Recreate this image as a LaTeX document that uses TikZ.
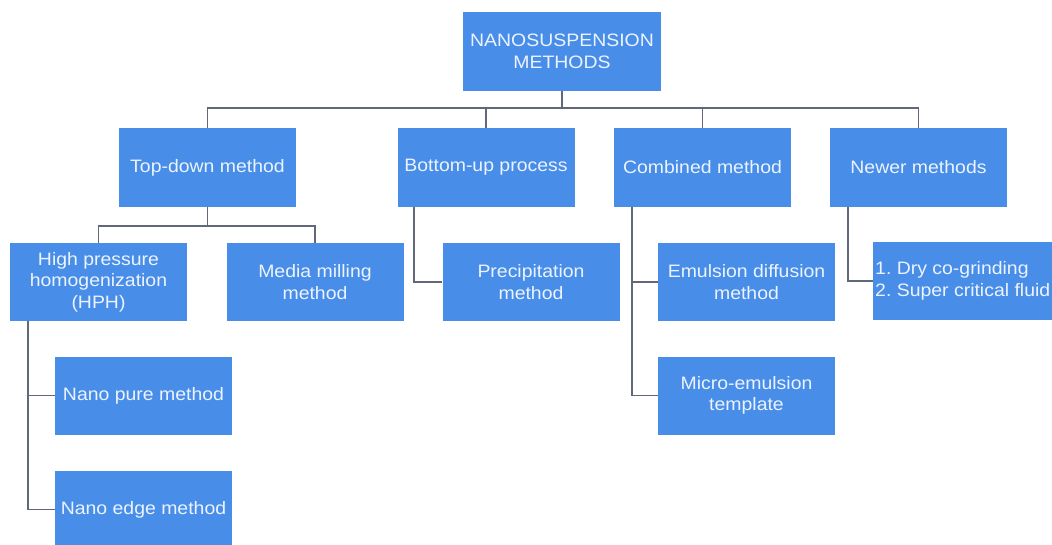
\documentclass[tikz,border=0pt]{standalone}
\usepackage{fontspec}
\setmainfont{Liberation Sans}[FakeStretch=1.08]
\definecolor{boxblue}{RGB}{72,142,232}
\definecolor{boxtext}{RGB}{236,243,255}
\definecolor{linegray}{RGB}{96,104,122}
\tikzset{
  box/.style={fill=boxblue, draw=none, inner sep=0pt, minimum width=177pt, minimum height=78pt,
    text=boxtext, align=center, font=\fontsize{18}{21.5}\selectfont},
  conn/.style={draw=linegray, line width=1.8pt}
}
\frenchspacing
\begin{document}
\begin{tikzpicture}[x=1pt,y=-1pt]
\useasboundingbox (0,0) rectangle (1052,545);
\clip (0,0) rectangle (1052,545);
\node[box, minimum width=198pt, minimum height=79pt] (root) at (562,51.5) {NANOSUSPENSION\\METHODS};
\node[box, minimum height=79pt] (td) at (207.5,167.5) {Top-down method};
\node[box, minimum height=79pt] (bu) at (486,167.5) {Bottom-up process};
\node[box, minimum height=79pt] (cb) at (702.5,167.5) {Combined method};
\node[box, minimum height=79pt] (nw) at (918.5,167.5) {Newer methods};
\node[box] (hph) at (98.5,282) {High pressure\\homogenization\\(HPH)};
\node[box] (mm) at (315,282) {Media milling\\method};
\node[box] (pr) at (531,282) {Precipitation\\method};
\node[box] (ed) at (746.5,282) {Emulsion diffusion\\method};
\node[box] (me) at (746.5,395.5) {Micro-emulsion\\template};
\node[box, align=left, anchor=west, inner xsep=2pt] (nd) at (873,281) {1. Dry co-grinding\\2. Super critical fluid};
\node[box] (np) at (143.5,395.5) {Nano pure method};
\node[box, minimum height=77pt] (ne) at (143.5,509.5) {Nano edge method};
% first level bus
\coordinate (bus) at (562,108);
\draw[conn] (root.south) -- (root.south |- bus);
\draw[conn] (td.north) -- (td.north |- bus) -- (nw.north |- bus) -- (nw.north);
\draw[conn] (bu.north) -- (bu.north |- bus);
\draw[conn] (cb.north) -- (cb.north |- bus);
% top-down children
\coordinate (tdbus) at (207.5,226);
\draw[conn] (td.south) -- (tdbus);
\draw[conn] (hph.north) -- (hph.north |- tdbus) -- (mm.north |- tdbus) -- (mm.north);
% bottom-up child
\coordinate (bus2) at ([xshift=17pt]bu.south west);
\draw[conn] (bus2) |- (pr.west);
% combined children
\coordinate (cbs) at ([xshift=18pt]cb.south west);
\draw[conn] (cbs) |- (ed.west);
\draw[conn] (cbs) |- (me.west);
% newer child
\coordinate (nws) at ([xshift=18pt]nw.south west);
\draw[conn] (nws) |- (nd.west);
% HPH children
\coordinate (hphs) at ([xshift=18pt]hph.south west);
\draw[conn] (hphs) |- (np.west);
\draw[conn] (hphs) |- (ne.west);
\end{tikzpicture}
\end{document}
